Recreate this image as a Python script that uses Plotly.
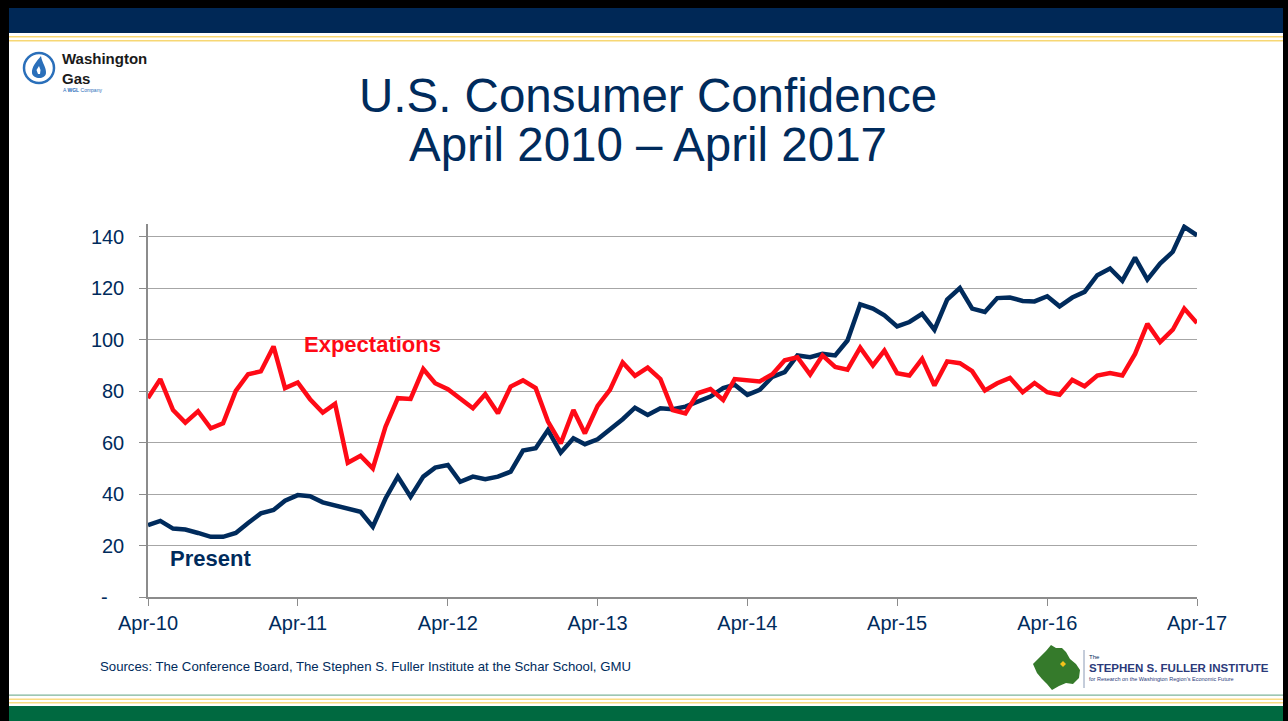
import pandas as pd
import plotly.graph_objects as go

W, H = 1288, 721

# ---- data ----
months = pd.date_range("2010-04-01", periods=85, freq="MS")
present = [27.9, 29.6, 26.6, 26.2, 24.9, 23.4, 23.4, 24.9, 28.8, 32.5, 33.8, 37.4, 39.6, 39.2,
           36.8, 35.5, 34.2, 33.1, 27.3, 38.3, 46.8, 39.0, 46.8, 50.3, 51.3, 44.8,
           46.8, 45.8, 46.8, 48.7, 56.9, 57.8, 64.9, 56.1, 61.7, 59.4, 61.3, 65.2, 69.1, 73.6,
           70.8, 73.4, 73.0, 74.0, 76.0, 77.9, 81.2, 82.5, 78.6, 80.5,
           85.6, 87.4, 93.9, 93.2, 94.5, 93.9, 99.7, 113.8, 112.1, 109.5, 105.2, 106.9, 110.1,
           103.9, 115.6, 120.1, 112.1, 110.8, 116.2, 116.4, 115.1, 114.9, 116.9, 113.0, 116.4,
           118.6, 125.1, 127.7, 122.9, 131.9, 123.4, 129.6, 134.2, 143.9, 140.6]
expectations = [77.3, 84.7, 72.7, 67.8, 72.2, 65.6, 67.5, 80.1, 86.6, 87.7, 97.4, 81.2, 83.4,
                76.9, 71.7, 75.1, 52.2, 54.9, 50.0, 66.2, 77.3, 77.0, 88.6, 83.1, 80.8, 77.3,
                73.4, 78.8, 71.4, 81.8, 84.2, 81.2, 68.2, 59.7, 72.7, 63.6, 74.3, 80.5, 91.2, 86.0,
                89.2, 84.7, 72.7, 71.4, 79.2, 80.8, 76.6, 84.7, 84.2, 83.8,
                86.6, 92.0, 93.2, 86.5, 93.9, 89.4, 88.4, 96.9, 90.0, 95.8, 87.0, 86.1, 92.6,
                82.2, 91.6, 90.9, 87.8, 80.3, 83.1, 85.2, 79.6, 83.2, 79.6, 78.6, 84.4, 81.9,
                86.1, 87.1, 86.1, 94.5, 106.2, 99.1, 103.9, 112.1, 106.5]
x_tick_vals = ["2010-04-01", "2011-04-01", "2012-04-01", "2013-04-01",
               "2014-04-01", "2015-04-01", "2016-04-01", "2017-04-01"]
x_tick_text = ["Apr-10", "Apr-11", "Apr-12", "Apr-13", "Apr-14", "Apr-15", "Apr-16", "Apr-17"]
y_tick_vals = [0, 20, 40, 60, 80, 100, 120, 140]
y_tick_text = ["-\u00a0\u00a0\u00a0", "20", "40", "60", "80", "100", "120", "140"]

NAVY = "#002b5c"
RED = "#ff0a16"
FONT = "Liberation Sans, Arial, sans-serif"


def px(x):
    return x / W


def py(y):
    return 1 - y / H


def path(points, close=True):
    s = "M " + " L ".join(f"{px(a):.5f},{py(b):.5f}" for a, b in points)
    return s + (" Z" if close else "")


fig = go.Figure()
fig.add_trace(go.Scatter(x=months, y=present, mode="lines", name="Present",
                         line=dict(color=NAVY, width=4.5), showlegend=False))
fig.add_trace(go.Scatter(x=months, y=expectations, mode="lines", name="Expectations",
                         line=dict(color=RED, width=4.5), showlegend=False))

shapes = []
# frame: black borders
shapes.append(dict(type="rect", xref="paper", yref="paper", x0=0, x1=px(9), y0=0, y1=1,
                   fillcolor="black", line_width=0, layer="above"))
shapes.append(dict(type="rect", xref="paper", yref="paper", x0=px(1283), x1=1, y0=0, y1=1,
                   fillcolor="black", line_width=0, layer="above"))
shapes.append(dict(type="rect", xref="paper", yref="paper", x0=0, x1=1, y0=py(8), y1=1,
                   fillcolor="black", line_width=0, layer="above"))
# top navy bar and gold lines
shapes.append(dict(type="rect", xref="paper", yref="paper", x0=px(9), x1=px(1283), y0=py(33), y1=py(8),
                   fillcolor="#002856", line_width=0))
for yy in (36, 40):
    shapes.append(dict(type="rect", xref="paper", yref="paper", x0=px(9), x1=px(1283),
                       y0=py(yy + 1.5), y1=py(yy), fillcolor="#f7d774", line_width=0))
# bottom green bar and lines
shapes.append(dict(type="rect", xref="paper", yref="paper", x0=px(9), x1=px(1283), y0=0, y1=py(706),
                   fillcolor="#006940", line_width=0))
shapes.append(dict(type="rect", xref="paper", yref="paper", x0=px(9), x1=px(1283), y0=py(695.8), y1=py(694.5),
                   fillcolor="#7fb59a", line_width=0))
for yy in (698.5, 702):
    shapes.append(dict(type="rect", xref="paper", yref="paper", x0=px(9), x1=px(1283),
                       y0=py(yy + 1.5), y1=py(yy), fillcolor="#f9dc84", line_width=0))

# Washington Gas logo
shapes.append(dict(type="circle", xref="paper", yref="paper", x0=px(24), x1=px(54), y0=py(83), y1=py(53),
                   line=dict(color="#2a6fba", width=2.5), fillcolor="white"))
flame = ("M {0},{1} C {2},{3} {4},{5} {6},{7} C {8},{9} {10},{11} {12},{13} "
         "C {14},{15} {16},{17} {0},{1} Z").format(
    *[f"{v:.5f}" for v in (px(41), py(56), px(36), py(62), px(31.5), py(67), px(32), py(73),
                            px(33), py(79.5), px(45.5), py(80), px(46), py(73),
                            px(46.5), py(67.5), px(42), py(63))])
shapes.append(dict(type="path", xref="paper", yref="paper", path=flame,
                   fillcolor="#2a6fba", line_width=0))
shapes.append(dict(type="path", xref="paper", yref="paper",
                   path=path([(38, 74), (36.5, 70), (39, 66), (40.5, 70), (40, 74)]),
                   fillcolor="white", line_width=0))

# Fuller Institute logo: green region map
shapes.append(dict(type="path", xref="paper", yref="paper",
                   path=path([(1033, 664), (1040, 657), (1046, 651), (1051, 645), (1056, 648),
                              (1062, 648), (1066, 652), (1070, 659), (1076, 664), (1080, 670),
                              (1079, 678), (1073, 684), (1066, 683), (1059, 686), (1052, 690),
                              (1047, 684), (1042, 679), (1037, 673)]),
                   fillcolor="#357a2b", line_width=0))
shapes.append(dict(type="path", xref="paper", yref="paper",
                   path=path([(1063, 661), (1066, 664), (1063, 667), (1060, 664)]),
                   fillcolor="#f4c21b", line_width=0))
shapes.append(dict(type="line", xref="paper", yref="paper", x0=px(1084), x1=px(1084), y0=py(650), y1=py(688),
                   line=dict(color="#8a9ab5", width=1)))

annotations = [
    dict(text="U.S. Consumer Confidence", x=px(648), y=py(96), xref="paper", yref="paper",
         showarrow=False, font=dict(family=FONT, size=47.5, color=NAVY), xanchor="center", yanchor="middle"),
    dict(text="April 2010 \u2013 April 2017", x=px(648), y=py(144), xref="paper", yref="paper",
         showarrow=False, font=dict(family=FONT, size=47.5, color=NAVY), xanchor="center", yanchor="middle"),
    dict(text="<b>Expectations</b>", x=months[18], y=98, xref="x", yref="y",
         showarrow=False, font=dict(family=FONT, size=22, color=RED), xanchor="center", yanchor="middle"),
    dict(text="<b>Present</b>", x=months[5], y=15, xref="x", yref="y",
         showarrow=False, font=dict(family=FONT, size=22, color=NAVY), xanchor="center", yanchor="middle"),
    dict(text="Sources: The Conference Board, The Stephen S. Fuller Institute at the Schar School, GMU",
         x=px(98), y=py(666), xref="paper", yref="paper", showarrow=False,
         font=dict(family=FONT, size=13.2, color=NAVY), xanchor="left", yanchor="middle"),
    dict(text="Washington<br>Gas", x=px(60), y=py(69), xref="paper", yref="paper",
         showarrow=False, align="left",
         font=dict(family=FONT, size=15, color="#1a1a1a", weight="bold"), xanchor="left", yanchor="middle"),
    dict(text="A <b>WGL</b> Company", x=px(61), y=py(90), xref="paper", yref="paper", showarrow=False,
         font=dict(family=FONT, size=5, color="#2a6fba"), xanchor="left", yanchor="middle"),
    dict(text="The", x=px(1087), y=py(657), xref="paper", yref="paper", showarrow=False,
         font=dict(family=FONT, size=6, color=NAVY), xanchor="left", yanchor="middle"),
    dict(text="<b>STEPHEN S. FULLER INSTITUTE</b>", x=px(1087), y=py(668), xref="paper", yref="paper",
         showarrow=False, font=dict(family=FONT, size=11.5, color="#2b3a7a"),
         xanchor="left", yanchor="middle"),
    dict(text="for Research on the Washington Region\u2019s Economic Future", x=px(1087), y=py(679),
         xref="paper", yref="paper", showarrow=False,
         font=dict(family=FONT, size=5.5, color="#2b3a7a"),
         xanchor="left", yanchor="middle"),
]

fig.update_layout(
    width=W, height=H,
    margin=dict(l=0, r=0, t=0, b=0, autoexpand=False),
    paper_bgcolor="white", plot_bgcolor="white",
    shapes=shapes, annotations=annotations,
    xaxis=dict(domain=[px(148), px(1197)], range=["2010-04-01", "2017-04-01"],
               tickvals=x_tick_vals, ticktext=x_tick_text, showgrid=False, zeroline=False,
               showline=True, linecolor="#8c8c8c", linewidth=1.5, automargin=False,
               ticks="outside", ticklen=7, tickcolor="#8c8c8c", tickwidth=1,
               tickfont=dict(family=FONT, size=20, color=NAVY)),
    yaxis=dict(domain=[py(597), py(224)], range=[0, 145], tickvals=y_tick_vals, ticktext=y_tick_text,
               showgrid=True, gridcolor="#a6a6a6", gridwidth=1, zeroline=False,
               showline=True, linecolor="#8c8c8c", linewidth=1.5, automargin=False,
               ticks="outside", ticklen=7, tickcolor="#8c8c8c", tickwidth=1,
               ticklabelstandoff=11,
               tickfont=dict(family=FONT, size=20, color=NAVY)),
    showlegend=False,
)

fig.write_html("out.html", config={"displayModeBar": False},
               post_script="document.body.style.margin='0';")
